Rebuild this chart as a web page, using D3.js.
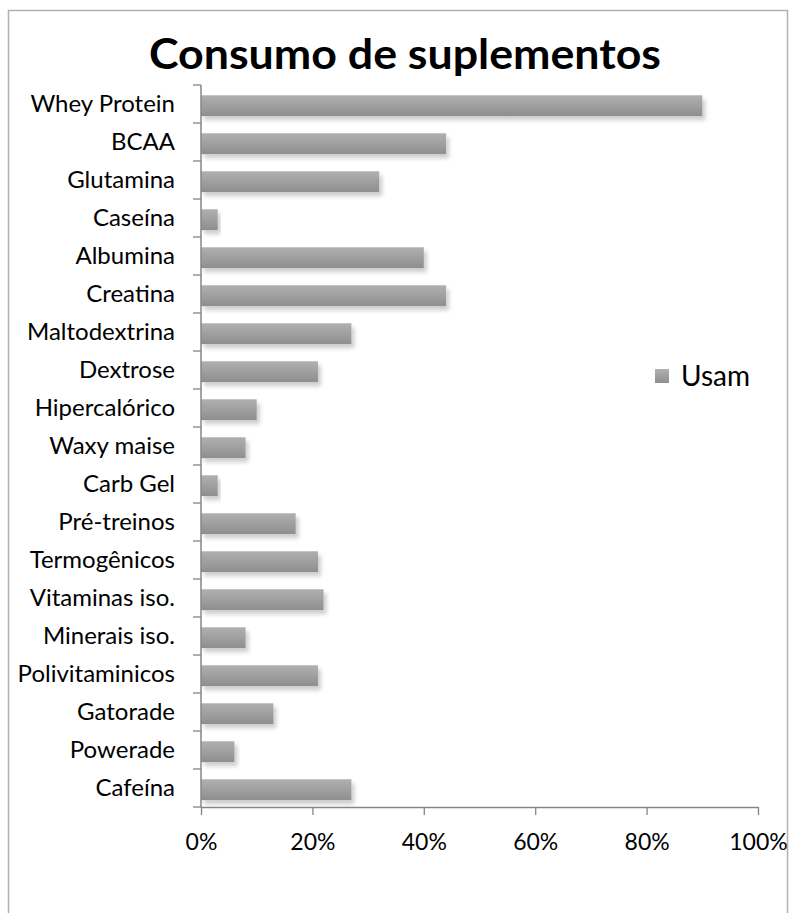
<!DOCTYPE html>
<html>
<head>
<meta charset="utf-8">
<script src="https://cdn.jsdelivr.net/npm/d3@7"></script>
<style>
  html, body { margin: 0; padding: 0; background: #fff; }
  svg { display: block; }
  text { font-family: Lato, "Open Sans", sans-serif; fill: #000; }
</style>
</head>
<body>
<svg id="chart" width="789" height="913"></svg>
<script>
// Supplement names, top to bottom
const categories = [
  "Whey Protein", "BCAA", "Glutamina", "Caseína", "Albumina", "Creatina",
  "Maltodextrina", "Dextrose", "Hipercalórico", "Waxy maise", "Carb Gel",
  "Pré-treinos", "Termogênicos", "Vitaminas iso.", "Minerais iso.",
  "Polivitaminicos", "Gatorade", "Powerade", "Cafeína"
];
// Share of respondents who use each supplement
const usam = [
  0.90, 0.44, 0.32, 0.03, 0.40, 0.44,
  0.27, 0.21, 0.10, 0.08, 0.03,
  0.17, 0.21, 0.22, 0.08,
  0.21, 0.13, 0.06, 0.27
];
const xTicks = [0, 0.2, 0.4, 0.6, 0.8, 1.0];
const seriesName = "Usam";
const title = "Consumo de suplementos";

const data = categories.map((c, i) => ({ name: c, value: usam[i] }));

const svg = d3.select("#chart");
const W = 789, H = 913;
const plot = { left: 201, right: 758, top: 85, bottom: 807 };

svg.append("rect").attr("width", W).attr("height", H).attr("fill", "#fff");

// chart frame
svg.append("rect")
  .attr("x", 8.5).attr("y", 10.5)
  .attr("width", 779).attr("height", 920)
  .attr("fill", "none").attr("stroke", "#b0b0b0").attr("stroke-width", 1.5);

const defs = svg.append("defs");
const grad = defs.append("linearGradient")
  .attr("id", "barFill").attr("x1", 0).attr("y1", 0).attr("x2", 0).attr("y2", 1);
grad.append("stop").attr("offset", "0%").attr("stop-color", "#b0b0b0");
grad.append("stop").attr("offset", "100%").attr("stop-color", "#8e8e8e");

const shadow = defs.append("filter").attr("id", "barShadow")
  .attr("x", "-5%").attr("y", "-40%").attr("width", "120%").attr("height", "200%");
shadow.append("feGaussianBlur").attr("in", "SourceAlpha").attr("stdDeviation", 2).attr("result", "blur");
shadow.append("feOffset").attr("in", "blur").attr("dx", 3).attr("dy", 4).attr("result", "off");
shadow.append("feComponentTransfer").attr("in", "off").attr("result", "soft")
  .append("feFuncA").attr("type", "linear").attr("slope", 0.2);
const merge = shadow.append("feMerge");
merge.append("feMergeNode").attr("in", "soft");
merge.append("feMergeNode").attr("in", "SourceGraphic");

const x = d3.scaleLinear().domain([0, 1]).range([plot.left, plot.right]);
const y = d3.scaleBand().domain(categories).range([plot.top, plot.bottom]);

// bars
svg.append("g").selectAll("rect")
  .data(data)
  .join("rect")
  .attr("x", x(0))
  .attr("y", d => y(d.name) + y.bandwidth() * 0.27)
  .attr("width", d => x(d.value) - x(0))
  .attr("height", y.bandwidth() * 0.55)
  .attr("fill", "url(#barFill)")
  .attr("filter", "url(#barShadow)");

const axisColor = "#868686";

// category axis: labels from the band scale, ticks on band boundaries
const yAxis = svg.append("g")
  .attr("transform", `translate(${plot.left},0)`)
  .call(d3.axisLeft(y).tickSize(0).tickPadding(26));
yAxis.select(".domain").remove();
yAxis.selectAll("text")
  .attr("font-size", 24).attr("font-family", "Lato, sans-serif").attr("fill", "#000");

const boundaries = categories.map(c => y(c)).concat([plot.bottom]);
svg.append("g").selectAll("line")
  .data(boundaries)
  .join("line")
  .attr("x1", plot.left - 8).attr("x2", plot.left)
  .attr("y1", d => d).attr("y2", d => d)
  .attr("stroke", axisColor).attr("stroke-width", 1.3);
svg.append("line")
  .attr("x1", plot.left).attr("x2", plot.left)
  .attr("y1", plot.top).attr("y2", plot.bottom)
  .attr("stroke", axisColor).attr("stroke-width", 1.5);

// value axis
const xAxis = svg.append("g")
  .attr("transform", `translate(0,${plot.bottom})`)
  .call(d3.axisBottom(x).tickValues(xTicks).tickFormat(d3.format(".0%"))
    .tickSize(8).tickSizeOuter(0).tickPadding(19));
xAxis.select(".domain").attr("stroke", axisColor).attr("stroke-width", 1.5);
xAxis.selectAll(".tick line").attr("stroke", axisColor).attr("stroke-width", 1.3);
xAxis.selectAll("text")
  .attr("font-size", 23).attr("font-family", "Lato, sans-serif").attr("fill", "#000");

// title
svg.append("text")
  .attr("x", 405).attr("y", 69)
  .attr("text-anchor", "middle")
  .attr("font-size", 42).attr("font-weight", 700)
  .attr("textLength", 512).attr("lengthAdjust", "spacingAndGlyphs")
  .text(title);

// legend
const legend = svg.append("g").attr("transform", "translate(655,369)");
legend.append("rect").attr("width", 14).attr("height", 14).attr("fill", "url(#barFill)");
legend.append("text").attr("x", 26).attr("y", 7).attr("dy", "0.35em")
  .attr("font-size", 28).text(seriesName);
</script>
</body>
</html>
